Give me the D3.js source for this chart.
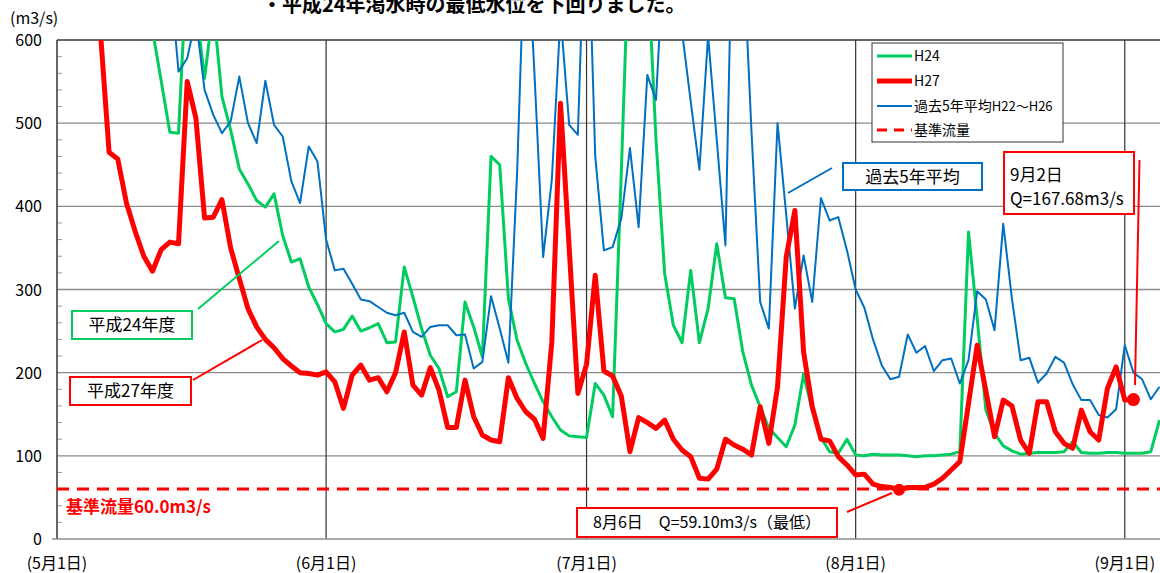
<!DOCTYPE html>
<html lang="ja">
<head>
<meta charset="utf-8">
<title>流量</title>
<script src="https://cdn.jsdelivr.net/npm/d3@7"></script>
<style>
body { margin: 0; background: #fff; }
text { font-family: "Noto Sans CJK JP", "Noto Sans", sans-serif; }
</style>
</head>
<body>
<script>
// 5月1日を0とした日数
var days = d3.range(128);
var monthTicks = [0, 31, 61, 92, 123];
var monthLabels = ["(5月1日)", "(6月1日)", "(7月1日)", "(8月1日)", "(9月1日)"];
var yTicks = [0, 100, 200, 300, 400, 500, 600];

var h24 = [1200,1100,1000,950,900,850,800,760,720,680,650,612,551,489,488,700,640,554,640,532,
  492,445,427,407,399,415,365,333,337,303,282,259,249,252,268,250,254,259,236,237,
  327,291,253,221,205,171,177,285,255,219,460,450,289,239,211,187,165,147,131,124,
  123,122,187,173,147,440,750,900,700,480,319,257,236,323,236,277,355,290,289,225,
  185,159,133,122,111,137,198,155,122,105,103,120,101,100,102,101,101,101,100,99,
  100,100,101,102,105,369,265,155,127,112,106,102,103,104,104,104,105,117,104,103,
  103,104,104,103,103,103,105,143];

var h27 = [1100,1000,900,820,720,610,465,457,404,370,340,322,348,357,355,550,506,386,387,408,
  350,313,277,255,240,230,217,208,200,199,197,201,189,157,197,209,191,194,177,200,
  249,185,173,206,179,134,134,191,147,125,119,117,194,169,153,144,121,237,524,350,
  175,210,317,202,196,172,105,146,140,133,143,120,107,99,73,72,84,120,113,108,
  101,159,115,183,339,395,225,159,120,118,99,89,77,78,66,63,62,59.1,62,62,
  62,66,73,83,93,163,233,178,123,167,160,119,103,165,165,129,115,109,155,129,
  119,181,207,167,167.68];

var avg5 = [1000,950,900,900,850,850,800,800,780,760,740,760,800,680,562,578,626,540,510,488,
  502,556,500,476,551,498,484,430,404,472,454,360,323,325,307,288,286,279,272,269,
  272,249,243,255,257,257,245,246,205,213,292,253,212,440,760,560,339,432,630,498,
  486,810,460,347,351,385,470,375,558,528,723,780,610,526,444,605,480,353,850,720,
  490,285,253,500,390,277,341,285,410,383,387,347,300,278,240,209,192,195,246,224,
  232,202,215,217,187,215,298,288,251,379,289,215,218,188,199,219,212,186,167,167,
  149,146,156,233,200,192,168,183];

var baseFlow = 60;
var minDay = 97, minVal = 59.10;
var sep2Day = 124, sep2Val = 167.68;

var w = 1160, h = 573;
var pLeft = 57, pTop = 40, pBottom = 539, pRight = 1160;

var svg = d3.select("body").append("svg")
  .attr("width", w).attr("height", h);

var x = d3.scaleLinear().domain([0, 127]).range([pLeft, 1159.5]);
var y = d3.scaleLinear().domain([0, 600]).range([pBottom, pTop]);

svg.append("clipPath").attr("id", "plot")
  .append("rect").attr("x", pLeft).attr("y", pTop)
  .attr("width", pRight - pLeft).attr("height", pBottom - pTop);

// 横グリッド
svg.append("g").selectAll("line")
  .data([100, 200, 300, 400, 500])
  .enter().append("line")
  .attr("x1", pLeft).attr("x2", pRight)
  .attr("y1", function(d) { return y(d); })
  .attr("y2", function(d) { return y(d); })
  .attr("stroke", "#8c8c8c").attr("stroke-width", 1.3);

// 小目盛り
svg.append("g").selectAll("line")
  .data(d3.range(20, 600, 20).filter(function(d) { return d % 100 != 0; }))
  .enter().append("line")
  .attr("x1", pLeft).attr("x2", pLeft + 5)
  .attr("y1", function(d) { return y(d); })
  .attr("y2", function(d) { return y(d); })
  .attr("stroke", "#9a9a9a").attr("stroke-width", 1);

// 月の区切り
svg.append("g").selectAll("line")
  .data(monthTicks.slice(1))
  .enter().append("line")
  .attr("x1", function(d) { return x(d); })
  .attr("x2", function(d) { return x(d); })
  .attr("y1", pTop).attr("y2", pBottom)
  .attr("stroke", "#333").attr("stroke-width", 1.2);

// 枠
svg.append("line").attr("x1", pLeft).attr("x2", pRight).attr("y1", pTop).attr("y2", pTop)
  .attr("stroke", "#333").attr("stroke-width", 1.5);
svg.append("line").attr("x1", pLeft).attr("x2", pLeft).attr("y1", pTop).attr("y2", pBottom)
  .attr("stroke", "#333").attr("stroke-width", 1.5);
svg.append("line").attr("x1", 52).attr("x2", pRight).attr("y1", pBottom).attr("y2", pBottom)
  .attr("stroke", "#8c8c8c").attr("stroke-width", 1.5);

// y軸ラベル
svg.append("g").selectAll("text")
  .data(yTicks)
  .enter().append("text")
  .attr("x", 42)
  .attr("y", function(d) { return y(d) + 6; })
  .attr("text-anchor", "end")
  .attr("font-size", "16px")
  .text(function(d) { return d; });

svg.append("text").attr("x", 10).attr("y", 24)
  .attr("font-size", "16px").text("(m3/s)");

// x軸ラベル
svg.append("g").selectAll("text")
  .data(monthTicks)
  .enter().append("text")
  .attr("x", function(d) { return x(d); })
  .attr("y", 569)
  .attr("text-anchor", "middle")
  .attr("font-size", "16px")
  .text(function(d, i) { return monthLabels[i]; });

// タイトル(上が切れている)
svg.append("text").attr("x", 262).attr("y", 12)
  .attr("font-size", "20px").attr("font-weight", "bold")
  .text("・平成24年渇水時の最低水位を下回りました。");

var plot = svg.append("g").attr("clip-path", "url(#plot)");

// 基準流量
plot.append("line")
  .attr("x1", pLeft).attr("x2", pRight)
  .attr("y1", y(baseFlow)).attr("y2", y(baseFlow))
  .attr("stroke", "#ff0000").attr("stroke-width", 3)
  .attr("stroke-dasharray", "12,8");

var line = d3.line()
  .x(function(d, i) { return x(days[i]); })
  .y(function(d) { return y(d); });

plot.append("path").datum(h24)
  .attr("d", line).attr("fill", "none")
  .attr("stroke", "#00cc60").attr("stroke-width", 3)
  .attr("stroke-linejoin", "round");

plot.append("path").datum(avg5)
  .attr("d", line).attr("fill", "none")
  .attr("stroke", "#0070c0").attr("stroke-width", 2)
  .attr("stroke-linejoin", "round");

plot.append("path").datum(h27)
  .attr("d", line).attr("fill", "none")
  .attr("stroke", "#ff0000").attr("stroke-width", 5)
  .attr("stroke-linejoin", "round");

svg.append("text").attr("x", 66).attr("y", 513)
  .attr("font-size", "17px").attr("font-weight", "bold").attr("fill", "#ff0000")
  .text("基準流量60.0m3/s");

// 凡例
var lg = svg.append("g");
lg.append("rect").attr("x", 872).attr("y", 43).attr("width", 191).attr("height", 99)
  .attr("fill", "#fff").attr("stroke", "#333").attr("stroke-width", 1);
var legendItems = [
  {label: "H24", color: "#00cc60", width: 3, dash: null, y: 56},
  {label: "H27", color: "#ff0000", width: 5, dash: null, y: 81},
  {label: "過去5年平均", sub: "H22～H26", color: "#0070c0", width: 2, dash: null, y: 106},
  {label: "基準流量", color: "#ff0000", width: 3, dash: "10,7", y: 130}
];
legendItems.forEach(function(d) {
  lg.append("line").attr("x1", 877).attr("x2", 912).attr("y1", d.y).attr("y2", d.y)
    .attr("stroke", d.color).attr("stroke-width", d.width)
    .attr("stroke-dasharray", d.dash);
  var t = lg.append("text").attr("x", 914).attr("y", d.y + 5)
    .attr("font-size", "14px").text(d.label);
  if (d.sub) t.append("tspan").attr("font-size", "13px").text(d.sub);
});

// 吹き出し
function callout(bx, by, bw, bh, color, lines, fs, lx1, ly1, lx2, ly2, anchor) {
  svg.append("line").attr("x1", lx1).attr("y1", ly1).attr("x2", lx2).attr("y2", ly2)
    .attr("stroke", color).attr("stroke-width", 2);
  svg.append("rect").attr("x", bx).attr("y", by).attr("width", bw).attr("height", bh)
    .attr("fill", "#fff").attr("stroke", color).attr("stroke-width", 2);
  lines.forEach(function(s, i) {
    svg.append("text")
      .attr("x", anchor == "start" ? bx + 6 : bx + bw / 2)
      .attr("y", by + (anchor == "start" ? 29 + i * 24 : bh / 2 + fs * 0.36))
      .attr("text-anchor", anchor || "middle")
      .attr("font-size", fs + "px").text(s);
  });
}
callout(843, 163, 139, 27, "#0070c0", ["過去5年平均"], 17, 788, 193, 832, 168);
callout(72, 311, 120, 28, "#00cc60", ["平成24年度"], 17, 198, 309, 279, 241);
callout(70, 377, 121, 28, "#ff0000", ["平成27年度"], 17, 193, 380, 262, 340);
callout(1004, 152, 130, 62, "#ff0000", ["9月2日", "Q=167.68m3/s"], 17, 1139.5, 160, 1135, 385, "start");
callout(577, 508, 260, 29, "#ff0000", ["8月6日　Q=59.10m3/s（最低）"], 16, 847, 512, 892, 493);

svg.append("circle").attr("cx", x(minDay)).attr("cy", y(minVal)).attr("r", 6).attr("fill", "#ff0000");
svg.append("circle").attr("cx", x(sep2Day)).attr("cy", y(sep2Val)).attr("r", 6.5).attr("fill", "#ff0000");
</script>
</body>
</html>
